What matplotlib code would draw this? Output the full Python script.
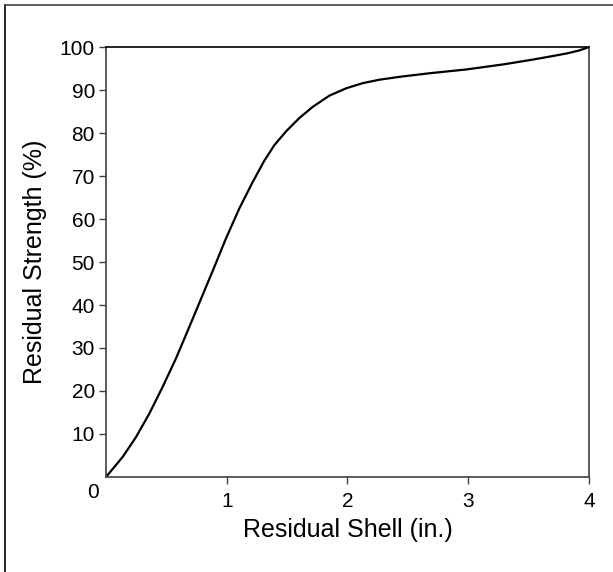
import matplotlib.pyplot as plt
from matplotlib.lines import Line2D

# values
shell = [0.0, 0.138, 0.249, 0.359, 0.47, 0.58, 0.69, 0.80, 0.898, 0.994, 1.105,
         1.215, 1.312, 1.395, 1.492, 1.602, 1.713, 1.851, 1.989, 2.127, 2.265,
         2.44, 2.68, 2.99, 3.30, 3.54, 3.70, 3.815, 3.92, 4.0]
strength = [0.0, 4.66, 9.3, 14.75, 21.0, 27.6, 34.9, 42.3, 48.9, 55.5, 62.5,
            68.6, 73.6, 77.2, 80.4, 83.5, 86.1, 88.7, 90.4, 91.6, 92.4,
            93.1, 93.9, 94.8, 96.0, 97.1, 97.9, 98.5, 99.2, 100.0]
x_ticks = [1, 2, 3, 4]
y_ticks = [10, 20, 30, 40, 50, 60, 70, 80, 90, 100]

plt.rcParams['font.family'] = ['Liberation Sans', 'DejaVu Sans']

fig = plt.figure(figsize=(6.13, 5.72), dpi=100)
ax = fig.add_axes([0.1729, 0.1661, 0.7879, 0.7517])

ax.plot(shell, strength, color='black', linewidth=1.6,
        solid_capstyle='round', solid_joinstyle='round')

ax.set_xlim(0, 4)
ax.set_ylim(0, 100)
ax.set_xticks(x_ticks)
ax.set_yticks(y_ticks)
ax.tick_params(axis='both', direction='out', length=5, width=1, color='#404040',
               labelsize=15)
ax.tick_params(axis='x', pad=6)
ax.tick_params(axis='y', pad=3)

for side in ['left', 'bottom', 'right']:
    ax.spines[side].set_color('#404040')
    ax.spines[side].set_linewidth(1.2)
ax.spines['top'].set_color('black')
ax.spines['top'].set_linewidth(1.2)

# shared zero label at the corner
ax.annotate('0', xy=(0, 0), xycoords='axes fraction', xytext=(-9.7, -11.5),
            textcoords='offset points', ha='center', va='center', fontsize=15)

ax.set_xlabel('Residual Shell (in.)', fontsize=18, labelpad=5)
ax.set_ylabel('Residual Strength (%)', fontsize=18, labelpad=9)

# outer frame (left and top edges visible)
fig.add_artist(Line2D([4.5 / 613, 4.5 / 613], [0, 1 - 5 / 572], transform=fig.transFigure,
                      color='black', linewidth=1.2))
fig.add_artist(Line2D([4.5 / 613, 1], [1 - 5 / 572, 1 - 5 / 572], transform=fig.transFigure,
                      color='#404040', linewidth=1.2))

fig.savefig('out.png', dpi=100)
